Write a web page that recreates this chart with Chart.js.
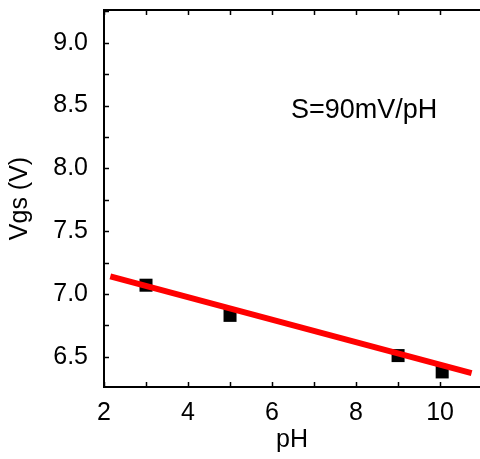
<!DOCTYPE html>
<html>
<head>
<meta charset="utf-8">
<script src="https://cdn.jsdelivr.net/npm/chart.js@4"></script>
<style>
  html, body { margin: 0; padding: 0; background: #fff; overflow: hidden; }
  canvas { display: block; }
</style>
</head>
<body>
<canvas id="grafico" width="480" height="459"></canvas>
<script>
// dados
var phValores = [3, 5, 9, 10.05];
var vgsValores = [7.07, 6.83, 6.51, 6.38];
// reta de ajuste (S = 90 mV/pH)
var ajusteX = [2.15, 10.75];
var ajusteY = [7.14, 6.37];
var xTicks = [2, 3, 4, 5, 6, 7, 8, 9, 10];
var yTicks = [6.5, 6.75, 7.0, 7.25, 7.5, 7.75, 8.0, 8.25, 8.5, 8.75, 9.0, 9.25];
var anotacao = 'S=90mV/pH';

var fonte = '"Liberation Sans", Arial, Helvetica, sans-serif';

// ticks para dentro + borda de cima + texto
var pluginEixos = {
  id: 'eixos',
  afterDraw: function (chart) {
    var ctx = chart.ctx;
    var a = chart.chartArea;
    var sx = chart.scales.x, sy = chart.scales.y;
    ctx.save();
    ctx.strokeStyle = '#000';
    ctx.lineWidth = 2;
    ctx.beginPath();
    ctx.moveTo(a.left, a.top);
    ctx.lineTo(chart.width, a.top);
    ctx.stroke();
    ctx.lineWidth = 1.5;
    xTicks.forEach(function (v) {
      var px = Math.round(sx.getPixelForValue(v)) + 0.5;
      ctx.beginPath();
      ctx.moveTo(px, a.bottom); ctx.lineTo(px, a.bottom - 5);
      ctx.moveTo(px, a.top); ctx.lineTo(px, a.top + 5);
      ctx.stroke();
    });
    yTicks.forEach(function (v) {
      var py = Math.round(sy.getPixelForValue(v)) + 0.5;
      ctx.beginPath();
      ctx.moveTo(a.left, py); ctx.lineTo(a.left + 5, py);
      ctx.stroke();
    });
    ctx.fillStyle = '#000';
    ctx.font = '27px ' + fonte;
    ctx.textAlign = 'left';
    ctx.textBaseline = 'middle';
    ctx.fillText(anotacao, sx.getPixelForValue(6.45), sy.getPixelForValue(8.46));
    ctx.restore();
  }
};

var dadosPontos = phValores.map(function (x, i) { return { x: x, y: vgsValores[i] }; });
var dadosAjuste = ajusteX.map(function (x, i) { return { x: x, y: ajusteY[i] }; });

const config = {
  type: 'scatter',
  data: {
    datasets: [
      {
        label: 'ajuste',
        data: dadosAjuste,
        showLine: true,
        borderColor: '#ff0000',
        borderWidth: 6,
        pointRadius: 0,
        order: 1
      },
      {
        label: 'Vgs',
        data: dadosPontos,
        pointStyle: 'rect',
        pointRadius: 9.2,
        backgroundColor: '#000',
        borderColor: '#000',
        borderWidth: 0,
        order: 2
      }
    ]
  },
  options: {
    responsive: false,
    animation: false,
    layout: { autoPadding: false, padding: { top: 10, right: 0, left: 0, bottom: 0 } },
    plugins: { legend: { display: false }, tooltip: { enabled: false } },
    scales: {
      x: {
        type: 'linear',
        min: 2,
        max: 10.95,
        afterBuildTicks: function (s) { s.ticks = xTicks.filter(function (v) { return v % 2 === 0; }).map(function (v) { return { value: v }; }); },
        afterFit: function (s) { s.height = 72; s.paddingLeft = 0; s.paddingRight = 0; },
        grid: { display: false, drawTicks: false },
        border: { display: true, color: '#000', width: 2 },
        ticks: { color: '#000', font: { family: fonte, size: 25 }, padding: 11, maxRotation: 0 },
        title: { display: true, text: 'pH', color: '#000', font: { family: fonte, size: 25 }, padding: { top: 0, bottom: 4 } }
      },
      y: {
        type: 'linear',
        min: 6.26,
        max: 9.26,
        afterBuildTicks: function (s) { s.ticks = [6.5, 7.0, 7.5, 8.0, 8.5, 9.0].map(function (v) { return { value: v }; }); },
        afterFit: function (s) { s.width = 104; s.paddingTop = 0; s.paddingBottom = 0; },
        grid: { display: false, drawTicks: false },
        border: { display: true, color: '#000', width: 2 },
        ticks: { color: '#000', font: { family: fonte, size: 25 }, padding: 16, callback: function (v) { return v.toFixed(1); } },
        title: { display: true, text: 'Vgs (V)', color: '#000', font: { family: fonte, size: 25 }, padding: { top: 5, bottom: 0 } }
      }
    }
  },
  plugins: [pluginEixos]
};

let chartGeral = new Chart(document.getElementById('grafico'), config);
</script>
</body>
</html>
